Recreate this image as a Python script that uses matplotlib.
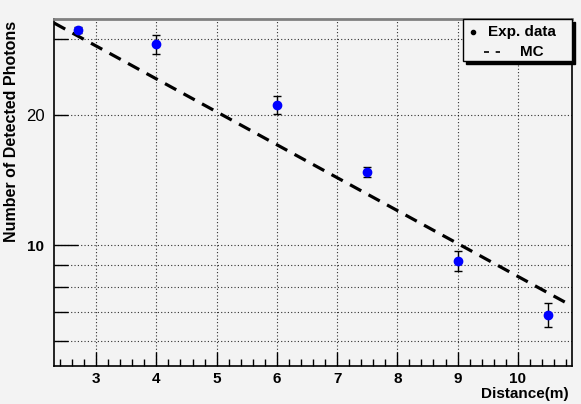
import numpy as np
import matplotlib
matplotlib.use("Agg")
import matplotlib.pyplot as plt
from matplotlib.patches import Rectangle
from matplotlib.lines import Line2D

# measured points
dist = [2.7, 4.0, 6.0, 7.5, 9.0, 10.5]
photons = [31.5, 29.2, 21.1, 14.8, 9.2, 6.9]
photons_err = [0.5, 1.5, 1.0, 0.4, 0.5, 0.43]

# MC expectation (straight on the log axis)
mc_dist = [2.3, 10.9]
mc_photons = [32.7, 7.23]

xticks = [3, 4, 5, 6, 7, 8, 9, 10]
yticks = [6, 7, 8, 9, 10, 20, 30]
ytick_labels = ['', '', '', '', '10', '20', '']

bg = '#f3f3f3'
plt.rcParams['font.family'] = ['Liberation Sans', 'DejaVu Sans']

fig = plt.figure(figsize=(5.81, 4.04), dpi=100, facecolor=bg)
ax = fig.add_axes([54/581, 38/404, 518/581, 347/404])
ax.set_facecolor(bg)

ax.set_yscale('log')
ax.set_xlim(2.3, 10.9)
ax.set_ylim(5.25, 33.4)

ax.plot(mc_dist, mc_photons, color='black', lw=2.3, linestyle=(0, (4, 2.6)), zorder=3)
ax.errorbar(dist, photons, yerr=photons_err, fmt='o', color='blue', ms=6,
            ecolor='black', elinewidth=1, capsize=3, capthick=1, zorder=4)

ax.set_xticks(xticks)
ax.set_xticklabels([str(t) for t in xticks], fontsize=11, fontweight='bold')
ax.set_xticks(np.arange(2.4, 10.9, 0.2), minor=True)
ax.set_yticks(yticks)
ax.set_yticklabels(ytick_labels)
ax.yaxis.set_minor_locator(matplotlib.ticker.NullLocator())
ax.yaxis.set_minor_formatter(matplotlib.ticker.NullFormatter())
for lab in ax.get_yticklabels():
    if lab.get_text() == '10':
        lab.set_fontweight('bold')
        lab.set_fontsize(11)
    elif lab.get_text() == '20':
        lab.set_fontsize(12)

ax.tick_params(axis='x', which='major', direction='in', length=10, width=1, pad=4)
ax.tick_params(axis='x', which='minor', direction='in', length=5, width=1)
ax.tick_params(axis='y', which='major', direction='in', length=10, width=1, pad=7)
ax.yaxis.get_major_ticks()[4].tick1line.set_markersize(17)

ax.grid(True, which='major', color='black', linestyle=(0, (1, 2)), lw=0.8, alpha=0.8)

for s in ['left', 'right', 'bottom']:
    ax.spines[s].set_color('black')
    ax.spines[s].set_linewidth(1.2)
ax.spines['top'].set_color('#808080')
ax.spines['top'].set_linewidth(2)

fig.text(12/581, 1 - 21/404, 'Number of Detected Photons', rotation=90,
         ha='center', va='top', fontsize=11.5, fontweight='bold')
fig.text(569/581, 1 - 394/404, 'Distance(m)', ha='right', va='center',
         fontsize=11, fontweight='bold')

# legend box with shadow, ROOT style
lx0, lx1, ly0, ly1 = 463, 572, 19, 61
fig.patches.append(Rectangle((lx0/581 + 3/581, 1 - (ly1 + 3)/404), (lx1 - lx0)/581,
                             (ly1 - ly0)/404, transform=fig.transFigure,
                             facecolor='black', edgecolor='black', zorder=10))
fig.patches.append(Rectangle((lx0/581, 1 - ly1/404), (lx1 - lx0)/581, (ly1 - ly0)/404,
                             transform=fig.transFigure, facecolor=bg, edgecolor='black',
                             lw=1, zorder=11))
fig.lines.append(Line2D([473/581], [1 - 32/404], transform=fig.transFigure, marker='o',
                        ms=3, color='black', zorder=12))
fig.lines.append(Line2D([484/581, 500/581], [1 - 52/404, 1 - 52/404],
                        transform=fig.transFigure, color='black', lw=1.2,
                        linestyle=(0, (3, 4)), zorder=12))
fig.text(488/581, 1 - 32/404, 'Exp. data', ha='left', va='center', fontsize=11,
         fontweight='bold', zorder=12)
fig.text(520/581, 1 - 52/404, 'MC', ha='left', va='center', fontsize=11,
         fontweight='bold', zorder=12)

fig.savefig('out.png', dpi=100, facecolor=bg)
